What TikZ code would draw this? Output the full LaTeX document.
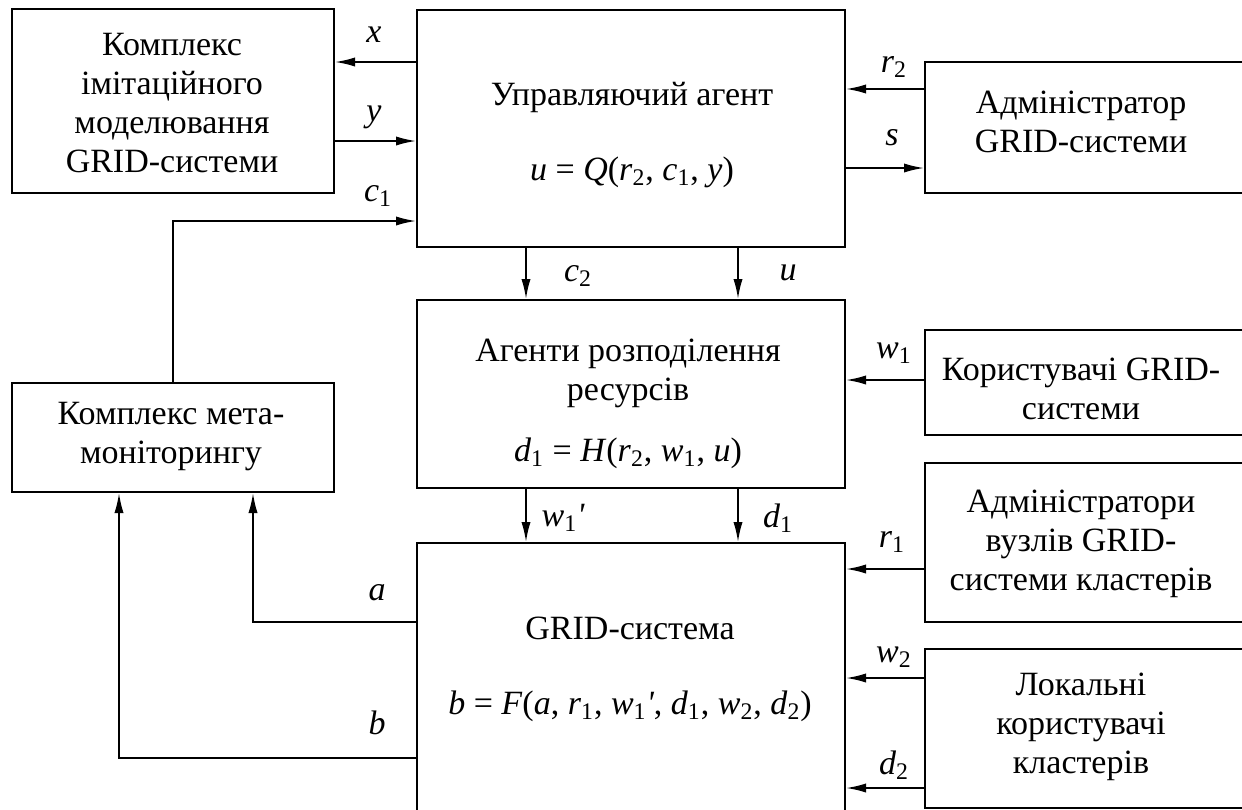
\documentclass[tikz,border=0pt]{standalone}
\usepackage{fontspec}
\setmainfont{Liberation Serif}
\newfontfamily\plainf[Ligatures=TeXOff]{Liberation Serif}
\usetikzlibrary{arrows.meta,fit}
\newcommand{\sbs}[1]{\textsubscript{#1}}
\newcommand{\vr}[1]{\textit{#1}}
\newcommand{\prm}{{\plainf\itshape '}}
\begin{document}
\begin{tikzpicture}[x=0.5pt,y=-0.5pt,
  box/.style={draw, line width=1pt, inner sep=0pt},
  txt/.style={align=center, font=\fontsize{17}{19.5}\selectfont, inner sep=0pt},
  lbl/.style={font=\fontsize{17}{19}\selectfont, inner sep=0pt},
  arr/.style={line width=0.9pt, -{Latex[length=10pt,width=4.6pt]}},
  ln/.style={line width=0.9pt}]
\useasboundingbox (0,0) rectangle (1242,809);
\clip (0,0) rectangle (1242,809);
% boxes
\node[box, fit={(12,9) (334,193)}] (A) {};
\node[box, fit={(417,10) (845,247)}] (B) {};
\node[box, fit={(925,62) (1252,193)}] (C) {};
\node[box, fit={(12,383) (334,492)}] (M) {};
\node[box, fit={(417,300) (845,488)}] (D) {};
\node[box, fit={(925,330) (1252,435)}] (E) {};
\node[box, fit={(925,463) (1252,622)}] (F) {};
\node[box, fit={(417,543) (845,830)}] (G) {};
\node[box, fit={(925,649) (1252,808)}] (H) {};
% texts
\node[txt] (At) at (172,103) {Комплекс\\імітаційного\\моделювання\\GRID-системи};
\node[txt] (Bt) at (632,135) {Управляючий агент\\[18pt]\vr{u} = \vr{Q}(\vr{r}\sbs{2}, \vr{c}\sbs{1}, \vr{y})};
\node[txt] (Ct) at (1081,122) {Адміністратор\\GRID-системи};
\node[txt] (Mt) at (171,437) {Комплекс мета-\\моніторингу};
\node[txt] (Dt) at (628,404) {Агенти розподілення\\ресурсів\\[11pt]\vr{d}\sbs{1} = \vr{H}(\vr{r}\sbs{2}, \vr{w}\sbs{1}, \vr{u})};
\node[txt] (Et) at (1081,389) {Користувачі GRID-\\системи};
\node[txt] (Ft) at (1081,544) {Адміністратори\\вузлів GRID-\\системи кластерів};
\node[txt] (Gt) at (630,669) {GRID-система\\[18pt]\vr{b} = \vr{F}(\vr{a}, \vr{r}\sbs{1}, \vr{w}\sbs{1}\prm, \vr{d}\sbs{1}, \vr{w}\sbs{2}, \vr{d}\sbs{2})};
\node[txt] (Ht) at (1081,727) {Локальні\\користувачі\\кластерів};
% levels
\coordinate (lx) at (0,62);
\coordinate (ly) at (0,141);
\coordinate (lc1) at (0,221);
\coordinate (lr2) at (0,89);
\coordinate (ls) at (0,168);
\coordinate (lw1) at (0,380);
\coordinate (lr1) at (0,569);
\coordinate (lw2) at (0,678);
\coordinate (ld2) at (0,788);
\coordinate (la) at (0,622);
\coordinate (lb) at (0,758);
\coordinate (xc2) at (526,0);
\coordinate (xu) at (738,0);
\coordinate (xa) at (253,0);
\coordinate (xb) at (119,0);
% connectors
\draw[arr] (B.west |- lx) -- (A.east |- lx);
\draw[arr] (A.east |- ly) -- (B.west |- ly);
\draw[arr] (M.north) |- (B.west |- lc1);
\draw[arr] (C.west |- lr2) -- (B.east |- lr2);
\draw[arr] (B.east |- ls) -- (C.west |- ls);
\draw[arr] (B.south -| xc2) -- (D.north -| xc2);
\draw[arr] (B.south -| xu) -- (D.north -| xu);
\draw[arr] (E.west |- lw1) -- (D.east |- lw1);
\draw[arr] (D.south -| xc2) -- (G.north -| xc2);
\draw[arr] (D.south -| xu) -- (G.north -| xu);
\draw[arr] (F.west |- lr1) -- (G.east |- lr1);
\draw[arr] (H.west |- lw2) -- (G.east |- lw2);
\draw[arr] (H.west |- ld2) -- (G.east |- ld2);
\draw[arr] (G.west |- la) -| (M.south -| xa);
\draw[arr] (G.west |- lb) -| (M.south -| xb);
% labels
\node[lbl] (Lx) at (374,35) {\vr{x}};
\node[lbl] (Ly) at (374,117) {\vr{y}};
\node[lbl] (Lc1) at (378,196) {\vr{c}\sbs{1}};
\node[lbl] (Lr2) at (894,67) {\vr{r}\sbs{2}};
\node[lbl] (Ls) at (892,138) {\vr{s}};
\node[lbl] (Lc2) at (578,276) {\vr{c}\sbs{2}};
\node[lbl] (Lu) at (788,273) {\vr{u}};
\node[lbl] (Lw1) at (894,353) {\vr{w}\sbs{1}};
\node[lbl] (Lw1p) at (563,518) {\vr{w}\sbs{1}\prm};
\node[lbl] (Ld1) at (778,518) {\vr{d}\sbs{1}};
\node[lbl] (Lr1) at (892,542) {\vr{r}\sbs{1}};
\node[lbl] (Lw2) at (894,657) {\vr{w}\sbs{2}};
\node[lbl] (Ld2) at (894,765) {\vr{d}\sbs{2}};
\node[lbl] (La) at (377,593) {\vr{a}};
\node[lbl] (Lb) at (377,723) {\vr{b}};
\end{tikzpicture}
\end{document}
